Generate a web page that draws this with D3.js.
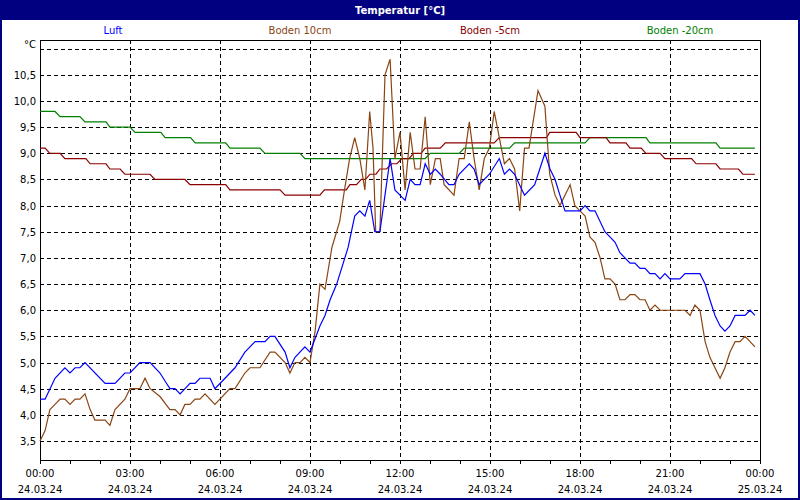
<!DOCTYPE html>
<html>
<head>
<meta charset="utf-8">
<script src="https://cdn.jsdelivr.net/npm/d3@7"></script>
<style>
  body { margin: 0; background: #fff; }
  text { font-family: "DejaVu Sans", sans-serif; font-size: 10px; }
</style>
</head>
<body>
<div id="chart"></div>
<script>
// values, hours since 24.03.24 00:00
var luftT = [0,0.17,0.5,0.83,1,1.17,1.33,1.5,2.17,2.5,2.83,3,3.33,3.67,4,4.22,4.33,4.5,4.67,5,5.17,5.33,5.67,5.83,6,6.5,6.83,7.17,7.5,7.67,7.83,8.17,8.33,8.5,8.83,9,9.33,9.5,9.67,9.89,10.27,10.49,10.66,10.83,10.99,11.16,11.33,11.5,11.67,11.83,12.17,12.34,12.5,12.67,12.84,13.01,13.18,13.34,13.63,13.8,13.97,14.31,14.47,14.64,14.98,15.31,15.48,15.65,15.82,16.15,16.49,16.83,17,17.17,17.33,17.5,18,18.17,18.33,18.5,18.83,19.17,19.33,19.67,19.83,20,20.17,20.33,20.5,20.67,20.83,21,21.33,21.5,22,22.17,22.33,22.5,22.67,22.83,23,23.17,23.5,23.67,23.83];
var luftV = [4.3,4.3,4.7,4.9,4.8,4.9,4.9,5.0,4.6,4.6,4.8,4.8,5.0,5.0,4.8,4.6,4.5,4.5,4.4,4.6,4.6,4.7,4.7,4.5,4.6,4.9,5.2,5.4,5.4,5.5,5.5,5.2,4.9,5.1,5.3,5.2,5.7,5.9,6.2,6.5,7.2,7.8,7.9,7.8,8.1,7.5,7.5,8.2,8.9,8.3,8.1,8.5,8.4,8.4,8.8,8.6,8.7,8.6,8.4,8.4,8.6,8.8,8.7,8.4,8.6,8.9,8.6,8.7,8.6,8.2,8.4,9.0,8.7,8.5,8.2,7.9,7.9,8.0,7.9,7.9,7.5,7.3,7.1,6.9,6.9,6.8,6.8,6.7,6.7,6.6,6.7,6.6,6.6,6.7,6.7,6.5,6.2,5.9,5.7,5.6,5.7,5.9,5.9,6.0,5.9];

var boden10T = [0,0.17,0.33,0.5,0.67,0.83,1,1.17,1.33,1.5,1.67,1.83,2.17,2.33,2.5,2.83,3,3.33,3.5,3.67,4,4.33,4.5,4.67,4.83,5,5.17,5.33,5.5,5.83,6.33,6.5,6.83,7,7.33,7.67,7.83,8.17,8.33,8.5,8.67,8.83,9,9.17,9.33,9.5,9.73,9.99,10.15,10.32,10.49,10.66,10.83,10.99,11.1,11.19,11.33,11.5,11.67,11.83,12,12.17,12.34,12.5,12.67,12.84,13.01,13.18,13.34,13.47,13.8,13.97,14.14,14.31,14.47,14.64,14.81,14.98,15.14,15.48,15.65,15.82,15.99,16.15,16.3,16.6,16.83,16.99,17.17,17.33,17.5,17.67,17.83,18,18.17,18.33,18.5,18.67,18.83,19,19.17,19.33,19.5,19.67,19.83,20,20.17,20.33,20.5,20.67,21.33,21.5,21.67,21.83,22,22.17,22.33,22.67,22.83,23,23.17,23.33,23.5,23.67,23.83];
var boden10V = [3.5,3.7,4.1,4.2,4.3,4.3,4.2,4.3,4.3,4.4,4.1,3.9,3.9,3.8,4.1,4.3,4.5,4.5,4.7,4.5,4.35,4.1,4.1,4.0,4.2,4.2,4.3,4.3,4.4,4.2,4.5,4.5,4.8,4.9,4.9,5.2,5.2,5.0,4.8,5.0,5.0,5.1,5.0,5.6,6.5,6.4,7.2,7.7,8.3,8.9,9.3,8.9,8.3,9.8,9.1,7.5,7.5,10.5,10.8,8.9,9.4,8.3,9.4,8.7,8.7,9.7,8.4,8.9,8.9,8.4,8.2,8.9,8.9,9.6,8.9,8.3,8.9,9.1,9.8,8.8,8.9,8.7,7.9,9.1,9.1,10.2,9.9,8.6,8.2,8.0,8.2,8.4,8.0,7.9,7.8,7.4,7.3,7.0,6.6,6.6,6.5,6.2,6.2,6.3,6.3,6.2,6.2,6.0,6.1,6.0,6.0,6.0,5.9,6.1,6.0,5.4,5.1,4.7,4.9,5.2,5.4,5.4,5.5,5.4,5.3];

var boden5T = [0,0.17,0.33,0.67,0.83,1.53,1.67,2.2,2.33,2.67,2.83,3.67,3.83,4.83,5,6.19,6.33,8,8.17,9.33,9.48,10.21,10.33,10.55,10.71,10.85,11,11.2,11.33,11.55,11.72,11.9,12.06,12.3,12.45,12.7,12.84,13.34,13.51,15.14,15.31,16.88,16.99,17.87,18,18.87,19,19.53,19.67,20.04,20.2,20.67,20.83,21.72,21.87,22.53,22.67,23.28,23.43,23.83];
var boden5V = [9.1,9.1,9.0,9.0,8.9,8.9,8.8,8.8,8.7,8.7,8.6,8.6,8.5,8.5,8.4,8.4,8.3,8.3,8.2,8.2,8.3,8.3,8.4,8.4,8.5,8.5,8.6,8.6,8.7,8.7,8.8,8.8,8.9,8.9,9.0,9.0,9.1,9.1,9.2,9.2,9.3,9.3,9.4,9.4,9.3,9.3,9.2,9.2,9.1,9.1,9.0,9.0,8.9,8.9,8.8,8.8,8.7,8.7,8.6,8.6];

var boden20T = [0,0.5,0.67,1.33,1.5,2.2,2.33,3,3.17,4.03,4.17,5.02,5.17,6.19,6.33,7.33,7.5,8.67,8.83,12.84,13.01,13.97,14.14,15.65,15.82,18.17,18.33,20.2,20.33,22.53,22.67,23.83];
var boden20V = [9.8,9.8,9.7,9.7,9.6,9.6,9.5,9.5,9.4,9.4,9.3,9.3,9.2,9.2,9.1,9.1,9.0,9.0,8.9,8.9,9.0,9.0,9.1,9.1,9.2,9.2,9.3,9.3,9.2,9.2,9.1,9.1];

var seriesNames = ["Luft", "Boden 10cm", "Boden -5cm", "Boden -20cm"];
var seriesColors = ["#0000ff", "#8b4513", "#8b0000", "#008000"];
var yTicks = [3.5,4,4.5,5,5.5,6,6.5,7,7.5,8,8.5,9,9.5,10,10.5];
var xTickHours = [0,3,6,9,12,15,18,21,24];
var xTimeLabels = ["00:00","03:00","06:00","09:00","12:00","15:00","18:00","21:00","00:00"];
var xDateLabels = ["24.03.24","24.03.24","24.03.24","24.03.24","24.03.24","24.03.24","24.03.24","24.03.24","25.03.24"];

var svgWidth = 800, svgHeight = 500;
var margin = {top: 40, right: 40, bottom: 40, left: 40};
var chartWidth = svgWidth - margin.left - margin.right;
var chartHeight = svgHeight - margin.top - margin.bottom;

var svg = d3.select("#chart").append("svg")
  .attr("width", svgWidth).attr("height", svgHeight);

// frame + title bar
svg.append("rect").attr("x", 1).attr("y", 1).attr("width", svgWidth - 2).attr("height", svgHeight - 2)
  .attr("fill", "#fff").attr("stroke", "#000080").attr("stroke-width", 2);
svg.append("rect").attr("x", 0).attr("y", 0).attr("width", svgWidth).attr("height", 20).attr("fill", "#000080");
svg.append("text").attr("x", svgWidth / 2).attr("y", 14).attr("text-anchor", "middle")
  .attr("fill", "#fff").style("font-weight", "bold").text("Temperatur [°C]");

var x = d3.scaleLinear().domain([0, 24]).range([0, chartWidth]);
var y = d3.scaleLinear().domain([10, 3.5]).range([61, 401]);

var chartGroup = svg.append("g").attr("transform", `translate(${margin.left}, ${margin.top})`);

// grid
chartGroup.selectAll(".hgrid").data(yTicks.concat([11])).enter().append("line")
  .attr("x1", 0).attr("x2", chartWidth)
  .attr("y1", d => Math.round(y(d)) + 0.5).attr("y2", d => Math.round(y(d)) + 0.5)
  .attr("stroke", "#000").attr("stroke-dasharray", "4,3");
chartGroup.selectAll(".vgrid").data(xTickHours.slice(1, -1)).enter().append("line")
  .attr("y1", 0).attr("y2", chartHeight)
  .attr("x1", d => Math.round(x(d)) + 0.5).attr("x2", d => Math.round(x(d)) + 0.5)
  .attr("stroke", "#000").attr("stroke-dasharray", "4,3");

// box
chartGroup.append("rect").attr("x", 0.5).attr("y", 0.5).attr("width", chartWidth).attr("height", chartHeight)
  .attr("fill", "none").attr("stroke", "#000");

// y labels
chartGroup.selectAll(".ylab").data(yTicks).enter().append("text")
  .attr("x", -4).attr("y", d => y(d) + 4).attr("text-anchor", "end")
  .text(d => d.toFixed(1).replace(".", ","));
chartGroup.append("text").attr("x", -4).attr("y", 8).attr("text-anchor", "end").text("°C");

// x ticks every hour
chartGroup.selectAll(".xtick").data(d3.range(0, 25)).enter().append("line")
  .attr("x1", d => Math.round(x(d)) + 0.5).attr("x2", d => Math.round(x(d)) + 0.5)
  .attr("y1", chartHeight).attr("y2", chartHeight + 4).attr("stroke", "#000");
chartGroup.selectAll(".xlab1").data(xTickHours).enter().append("text")
  .attr("x", d => x(d)).attr("y", chartHeight + 17).attr("text-anchor", "middle")
  .text((d, i) => xTimeLabels[i]);
chartGroup.selectAll(".xlab2").data(xTickHours).enter().append("text")
  .attr("x", d => x(d)).attr("y", chartHeight + 33).attr("text-anchor", "middle")
  .text((d, i) => xDateLabels[i]);

// lines
var allT = [luftT, boden10T, boden5T, boden20T];
var allV = [luftV, boden10V, boden5V, boden20V];
var line = d3.line().x(d => x(d[0])).y(d => y(d[1]));
[3, 2, 1, 0].forEach(function(i) {
  var pts = allT[i].map((t, j) => [t, allV[i][j]]);
  chartGroup.append("path").datum(pts).attr("d", line)
    .attr("fill", "none").attr("stroke", seriesColors[i]).attr("stroke-width", 1.2);
});

// legend
var legendX = [113, 300, 490, 680];
svg.selectAll(".leg").data(seriesNames).enter().append("text")
  .attr("x", (d, i) => legendX[i]).attr("y", 34).attr("text-anchor", "middle")
  .attr("fill", (d, i) => seriesColors[i]).text(d => d);
</script>
</body>
</html>
